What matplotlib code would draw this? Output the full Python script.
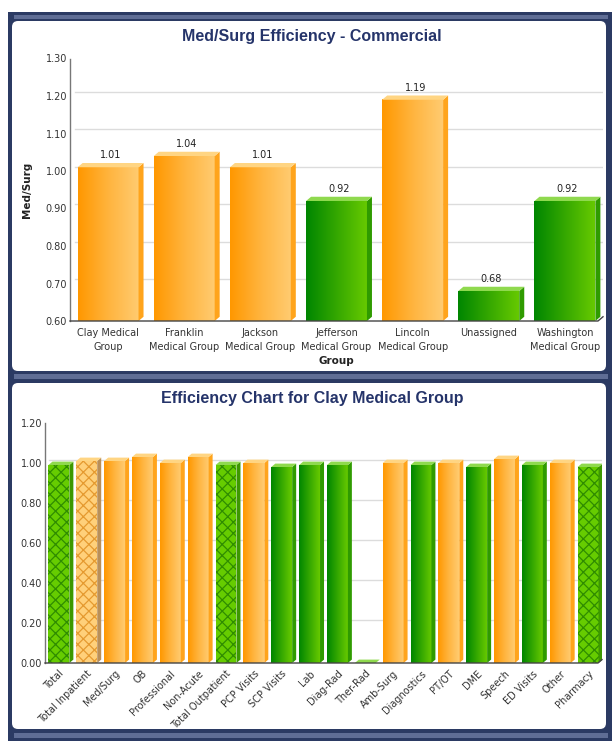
import numpy as np
import matplotlib
matplotlib.use("Agg")
import matplotlib.pyplot as plt
from matplotlib.patches import Rectangle, Polygon, FancyBboxPatch
from matplotlib.colors import LinearSegmentedColormap

# ---- data ----
groups = ["Clay Medical\nGroup", "Franklin\nMedical Group", "Jackson\nMedical Group",
          "Jefferson\nMedical Group", "Lincoln\nMedical Group", "Unassigned",
          "Washington\nMedical Group"]
group_values = [1.01, 1.04, 1.01, 0.92, 1.19, 0.68, 0.92]
group_ticks = [0.60, 0.70, 0.80, 0.90, 1.00, 1.10, 1.20, 1.30]

categories = ["Total", "Total Inpatient", "Med/Surg", "OB", "Professional", "Non-Acute",
              "Total Outpatient", "PCP Visits", "SCP Visits", "Lab", "Diag-Rad", "Ther-Rad",
              "Amb-Surg", "Diagnostics", "PT/OT", "DME", "Speech", "ED Visits", "Other",
              "Pharmacy"]
category_values = [0.99, 1.01, 1.01, 1.03, 1.00, 1.03, 0.99, 1.00, 0.98, 0.99, 0.99, 0.00,
                   1.00, 0.99, 1.00, 0.98, 1.02, 0.99, 1.00, 0.98]
summary_rows = ["Total", "Total Inpatient", "Total Outpatient", "Pharmacy"]
category_ticks = [0.00, 0.20, 0.40, 0.60, 0.80, 1.00, 1.20]

# ---- styling ----
W, H, DPI = 616, 741, 100
NAVY = "#2b3a63"
NAVY_LIGHT = "#5f6d95"
TITLE = "#25346a"
TEXT = "#333333"
GRID = "#dcdcdc"

ORANGE = dict(front=LinearSegmentedColormap.from_list("o", ["#ff9800", "#ffb43e", "#ffcb70"]),
              top="#ffd583", side="#ffa41c", flat="#ffd07a", hatch="#e59a30", flat_side="#b98f58")
GREEN = dict(front=LinearSegmentedColormap.from_list("g", ["#008600", "#34a700", "#66c900"]),
             top="#8fd94e", side="#2f9b00", flat="#66cc00", hatch="#2f8c00", flat_side="#3d9800")

plt.rcParams["hatch.linewidth"] = 0.9

fig = plt.figure(figsize=(W / DPI, H / DPI), dpi=DPI)
fig.patch.set_facecolor("white")


def frac(x0, y0, x1, y1):
    return [x0 / W, 1 - y1 / H, (x1 - x0) / W, (y1 - y0) / H]


# ---- framed panels ----
bg = fig.add_axes([0, 0, 1, 1], zorder=-5)
bg.set_xlim(0, W)
bg.set_ylim(H, 0)
bg.axis("off")
bg.add_patch(Rectangle((8, 12), 604, H - 12, facecolor=NAVY, edgecolor="none"))
for y0, y1 in [(15, 19), (374, 379), (733, 738)]:
    bg.add_patch(Rectangle((14, y0), 594, y1 - y0, facecolor=NAVY_LIGHT, edgecolor="none"))
for y0, y1 in [(21, 371), (383, 729)]:
    bg.add_patch(FancyBboxPatch((18, y0 + 6), 582, (y1 - y0) - 12,
                                boxstyle="round,pad=6", facecolor="white",
                                edgecolor="none"))

fig.text(312 / W, 1 - 37 / H, "Med/Surg Efficiency - Commercial", ha="center", va="center",
         fontsize=11.5, fontweight="bold", color=TITLE, family="Liberation Sans")
fig.text(312 / W, 1 - 398 / H, "Efficiency Chart for Clay Medical Group", ha="center",
         va="center", fontsize=11.5, fontweight="bold", color=TITLE, family="Liberation Sans")


def chart_3d(ax, labels, values, ticks, bar_w, depth_px, hatched=None, value_labels=False):
    n = len(values)
    x0, x1 = -0.5, n - 0.5
    y0, y1 = ticks[0], ticks[-1]
    ax.set_xlim(x0, x1)
    ax.set_ylim(y0, y1)
    bb = ax.get_position()
    px_x = bb.width * W / (x1 - x0)
    px_y = bb.height * H / (y1 - y0)
    dx = depth_px / px_x
    dy = depth_px * 0.85 / px_y

    # back wall grid lines and floor
    for t in ticks[1:]:
        ax.plot([x0 + dx, x1], [t + dy, t + dy], color=GRID, lw=1, zorder=1)
    ax.plot([x0, x0], [y0, y1], color="#777777", lw=1, zorder=4, clip_on=False)
    ax.plot([x0, x1 - dx, x1], [y0, y0, y0 + dy], color="#444444", lw=1, zorder=4,
            clip_on=False)

    for i, v in enumerate(values):
        pal = ORANGE if v >= 1.0 else GREEN
        left, right = i - bar_w / 2, i + bar_w / 2
        flat = hatched is not None and hatched[i]
        if v > y0:
            if flat:
                ax.add_patch(Rectangle((left, y0), bar_w, v - y0, facecolor=pal["flat"],
                                       edgecolor=pal["hatch"], lw=0, hatch="xxx", zorder=3))
            else:
                ax.imshow(np.linspace(0, 1, 64).reshape(1, -1), cmap=pal["front"],
                          extent=(left, right, y0, v), aspect="auto", zorder=3,
                          interpolation="bilinear")
        side = pal["flat_side"] if flat else pal["side"]
        ax.add_patch(Polygon([(right, y0), (right + dx, y0 + dy), (right + dx, v + dy),
                              (right, v)], closed=True, facecolor=side, edgecolor="none",
                             zorder=3))
        ax.add_patch(Polygon([(left, v), (right, v), (right + dx, v + dy),
                              (left + dx, v + dy)], closed=True, facecolor=pal["top"],
                             edgecolor="none", zorder=3))
        if value_labels:
            ax.annotate(f"{v:.2f}", (i + dx / 2, v + dy), xytext=(0, 2),
                        textcoords="offset points", ha="center", va="bottom",
                        fontsize=7, color="#222222")

    ax.set_xlim(x0, x1)
    ax.set_ylim(y0, y1)
    ax.set_aspect("auto")
    ax.set_facecolor("none")
    for s in ax.spines.values():
        s.set_visible(False)
    ax.set_yticks(ticks)
    ax.set_yticklabels([f"{t:.2f}" for t in ticks])
    ax.set_xticks(range(n))
    ax.tick_params(length=0, labelsize=7, labelcolor=TEXT)
    ax.tick_params(axis="y", pad=2)


# ---- top chart ----
ax1 = fig.add_axes(frac(70, 58.5, 603, 321))
chart_3d(ax1, groups, group_values, group_ticks, bar_w=0.80, depth_px=5, value_labels=True)
ax1.set_xticklabels(groups, fontsize=7, linespacing=1.45)
ax1.tick_params(axis="x", pad=5)
ax1.set_xlabel("Group", fontsize=7.5, fontweight="bold", color="#222222", labelpad=3)
ax1.set_ylabel("Med/Surg", fontsize=7.5, fontweight="bold", color="#222222")
ax1.yaxis.set_label_coords(-0.071, 0.5)

# ---- bottom chart ----
ax2 = fig.add_axes(frac(45, 423, 602, 663))
chart_3d(ax2, categories, category_values, category_ticks, bar_w=0.75, depth_px=4,
         hatched=[c in summary_rows for c in categories])
ax2.set_xticklabels(categories, fontsize=7, rotation=45, ha="right",
                    rotation_mode="anchor")
ax2.tick_params(axis="x", pad=4)

fig.savefig("out.png", dpi=DPI, facecolor="white")
